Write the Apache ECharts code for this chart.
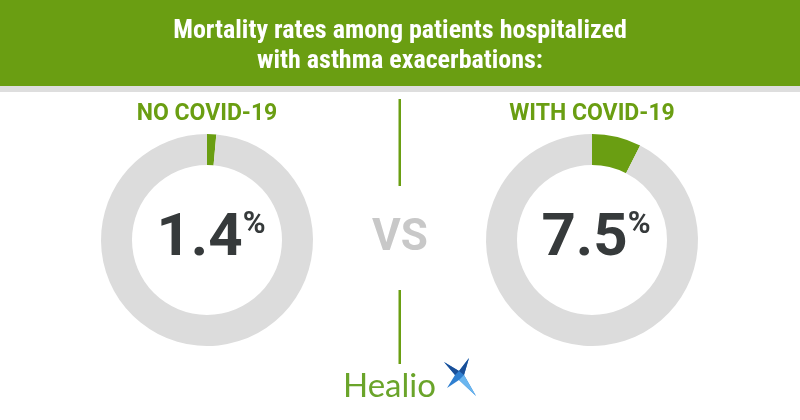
<!DOCTYPE html>
<html><head><meta charset="utf-8">
<script src="https://cdn.jsdelivr.net/npm/echarts@6/dist/echarts.min.js"></script>
<style>html,body{margin:0;padding:0;background:#fff}#c{width:800px;height:420px}</style>
</head><body><div id="c"></div>
<script>
var categories = ['NO COVID-19', 'WITH COVID-19'];
var rates = [1.4, 7.5];
var titleLines = ['Mortality rates among patients hospitalized', 'with asthma exacerbations:'];

var GREEN = '#6a9e12', RING = '#dcdcdc', DARK = '#363a3b';
var chart = echarts.init(document.getElementById('c'), null, {renderer: 'canvas'});
var centersX = [207, 592];

var series = categories.map(function (cat, i) {
  return {
    type: 'pie', radius: [75, 106], center: [centersX[i], 240],
    startAngle: 90, clockwise: true, silent: true, animation: false,
    labelLine: {show: false},
    data: [
      {value: rates[i], name: cat, itemStyle: {color: GREEN},
       label: {show: true, position: 'center', offset: [4, 0],
         formatter: '{n|' + rates[i].toFixed(1) + '}{p|%}',
         rich: {
           n: {fontFamily: 'Roboto', fontWeight: 'bold', fontSize: 60, color: DARK, lineHeight: 60, verticalAlign: 'bottom'},
           p: {fontFamily: 'Roboto', fontWeight: 'bold', fontSize: 31, color: DARK, lineHeight: 60, verticalAlign: 'top', padding: [0, 0, 0, 0]}
         }}},
      {value: 100 - rates[i], name: 'rest', itemStyle: {color: RING}, label: {show: false}}
    ]
  };
});

var TF = 'bold 26px "Liberation Sans Narrow", "Roboto Condensed", Roboto, sans-serif';
var graphics = [
  {type: 'rect', shape: {x: 0, y: 0, width: 800, height: 86}, style: {fill: GREEN}, z: 0},
  {type: 'rect', shape: {x: 0, y: 86, width: 800, height: 6}, style: {fill: '#dedede'}, z: 0},
  {type: 'text', x: 400, y: 31, style: {text: titleLines[0], fill: '#fff', font: TF, textAlign: 'center', textVerticalAlign: 'middle'}},
  {type: 'text', x: 400, y: 61, style: {text: titleLines[1], fill: '#fff', font: TF, textAlign: 'center', textVerticalAlign: 'middle'}},
  {type: 'rect', shape: {x: 398.5, y: 99, width: 2.5, height: 87}, style: {fill: GREEN}},
  {type: 'rect', shape: {x: 398.5, y: 290, width: 2.5, height: 74}, style: {fill: GREEN}},
  {type: 'text', x: 400, y: 239, style: {text: 'VS', fill: '#c8c8c8', font: 'bold 44px Roboto, sans-serif', textAlign: 'center', textVerticalAlign: 'middle'}},
  {type: 'text', x: 343, y: 386, style: {text: 'Healio', fill: '#6aa42a', font: '33px Lato, "Open Sans", sans-serif', textAlign: 'left', textVerticalAlign: 'middle'}},
  // star logo
  {type: 'polygon', shape: {points: [[444,362],[459,371],[469,358],[464,375],[476,396],[459,380],[447,388],[455,375]]}, style: {fill: '#2f7fd0'}},
  {type: 'polygon', shape: {points: [[444,362],[459,371],[455,375]]}, style: {fill: '#1a4f98'}},
  {type: 'polygon', shape: {points: [[469,358],[464,375],[459,371]]}, style: {fill: '#1a4f98'}},
  {type: 'polygon', shape: {points: [[464,375],[476,396],[459,380]]}, style: {fill: '#6bb6ef'}}
];
categories.forEach(function (cat, i) {
  graphics.push({type: 'text', x: centersX[i], y: 114, style: {text: cat, fill: GREEN, font: 'bold 23px Roboto, sans-serif', textAlign: 'center', textVerticalAlign: 'middle'}});
});

chart.setOption({
  backgroundColor: '#fff',
  animation: false,
  series: series,
  graphic: graphics
});
</script></body></html>
